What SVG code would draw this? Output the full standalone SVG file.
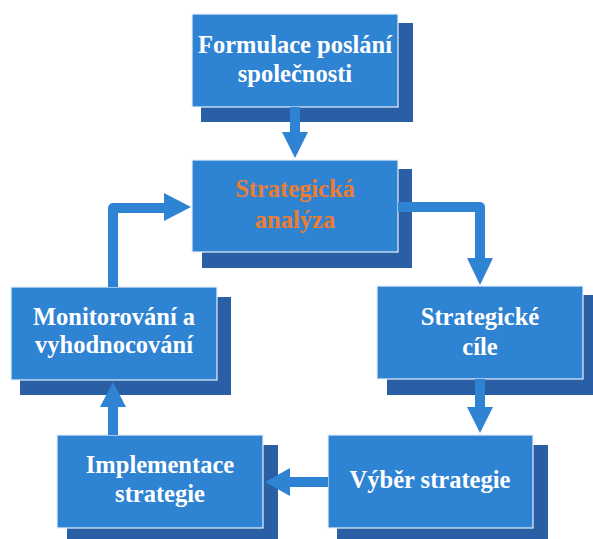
<svg xmlns="http://www.w3.org/2000/svg" width="593" height="539" viewBox="0 0 593 539">
<style>
.sh{fill:#2A5EA5}
.fr{fill:#2F83D3;stroke:#E8F0FA;stroke-width:1.2}
.t{font-family:"Liberation Serif","Times New Roman",serif;font-weight:bold;font-size:24.5px;fill:#FFFFFF;text-anchor:middle}
.o{fill:#ED7D31}
.ln{fill:none;stroke:#2F83D3;stroke-width:10;stroke-linejoin:round}
.hd{fill:#2F83D3}
</style>
<rect width="593" height="539" fill="#FFFFFF"/>
<g id="n1">
<rect class="sh" x="201" y="23" width="212" height="99"/>
<rect class="fr" x="192" y="14" width="206" height="93"/>
<text class="t" x="295" y="53">Formulace poslání</text>
<text class="t" x="295" y="82">společnosti</text>
</g>
<g id="n2">
<rect class="sh" x="202" y="169" width="210" height="99"/>
<rect class="fr" x="192" y="160" width="206" height="92"/>
<text class="t o" x="295" y="197">Strategická</text>
<text class="t o" x="295" y="228">analýza</text>
</g>
<g id="n3">
<rect class="sh" x="20" y="297" width="211" height="98"/>
<rect class="fr" x="11" y="287" width="206" height="93"/>
<text class="t" x="114" y="325">Monitorování a</text>
<text class="t" x="114" y="353">vyhodnocování</text>
</g>
<g id="n4">
<rect class="sh" x="387" y="295" width="206" height="100"/>
<rect class="fr" x="377" y="286" width="206" height="93"/>
<text class="t" x="480" y="325">Strategické</text>
<text class="t" x="480" y="355">cíle</text>
</g>
<g id="n5">
<rect class="sh" x="67" y="445" width="211" height="94"/>
<rect class="fr" x="57" y="435" width="206" height="93"/>
<text class="t" x="160" y="473">Implementace</text>
<text class="t" x="160" y="502">strategie</text>
</g>
<g id="n6">
<rect class="sh" x="337" y="445" width="211" height="94"/>
<rect class="fr" x="328" y="435" width="205" height="93"/>
<text class="t" x="430" y="488">Výběr strategie</text>
</g>
<g id="connectors">
<path class="ln" d="M295,107 V134"/>
<polygon class="hd" points="282,132 308,132 295,158"/>
<path class="ln" d="M398,207 H480 V260"/>
<polygon class="hd" points="467,258 493,258 480,285"/>
<path class="ln" d="M480,379 V409"/>
<polygon class="hd" points="467,407 493,407 480,433"/>
<path class="ln" d="M328,482 H288"/>
<polygon class="hd" points="290,468 290,496 265,482"/>
<path class="ln" d="M113,435 V405"/>
<polygon class="hd" points="100,407 126,407 113,382"/>
<path class="ln" d="M113,287 V208 H166"/>
<polygon class="hd" points="164,193 164,221 191,207"/>
</g>
</svg>
